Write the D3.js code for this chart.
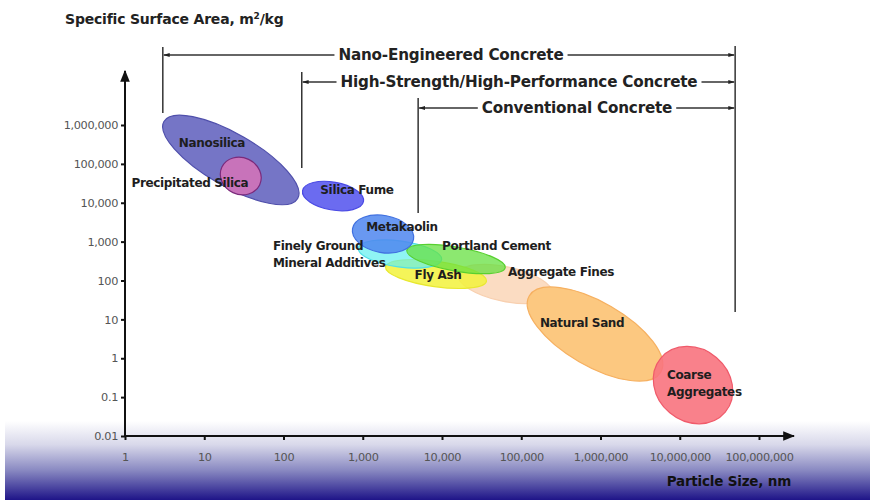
<!DOCTYPE html>
<html>
<head>
<meta charset="utf-8">
<script src="https://cdn.jsdelivr.net/npm/d3@7"></script>
<style>
  html, body { margin: 0; padding: 0; background: #ffffff; }
  svg { display: block; }
  text { font-family: "DejaVu Sans", sans-serif; }
</style>
</head>
<body>
<svg id="chart" width="870" height="500"></svg>
<script>
// ---------- DATA ----------
const xTickValues = [1, 10, 100, 1000, 10000, 100000, 1000000, 10000000, 100000000];
const yTickValues = [0.01, 0.1, 1, 10, 100, 1000, 10000, 100000, 1000000];

// Materials: major-axis end points in data units (particle size nm, surface area m2/kg)
const materialNames = ["Aggregate Fines", "Natural Sand", "Coarse Aggregates", "Nanosilica", "Precipitated Silica",
  "Silica Fume", "Fly Ash", "Finely Ground Mineral Additives", "Portland Cement", "Metakaolin"];
const sizeFrom = [15900, 126000, 5770000, 3.1, 16.7, 174, 1940, 881, 3600, 743];
const sizeTo   = [244000, 5770000, 37500000, 151, 50, 1022, 36400, 9890, 62700, 4370];
const ssaFrom  = [147, 39.9, 1.01, 1230000, 82600, 20500, 224, 678, 598, 2160];
const ssaTo    = [45, 0.44, 0.041, 12900, 28800, 10800, 96.5, 341, 213, 1140];
const widthRatio = [0.36, 0.42, 0.86, 0.34, 0.88, 0.45, 0.25, 0.31, 0.24, 0.6];
const fills   = ["#fbdcc2", "#fcc880", "#f8737e", "#7575c6", "#c873ba", "#6b6bf0", "#f2f23c", "#5ff0f0", "#66e040", "#4f86ee"];
const strokes = ["#f8d0b0", "#f6b060", "#f05a6a", "#4f4fab", "#7b2a7b", "#4a4ae4", "#e8e830", "#50e0e8", "#58d030", "#4070e0"];
const opacities = [1, 1, 0.9, 1, 1, 1, 0.85, 0.7, 0.75, 0.85];

// Label lines and anchor points (data units)
const labelLines = [["Aggregate Fines"], ["Natural Sand"], ["Coarse", "Aggregates"], ["Nanosilica"], ["Precipitated Silica"],
  ["Silica Fume"], ["Fly Ash"], ["Finely Ground", "Mineral Additives"], ["Portland Cement"], ["Metakaolin"]];
const labelSize = [68000, 172000, 6900000, 12.5, 6.6, 846, 8900, 73.7, 10000, 3130];
const labelSSA  = [131, 6.4, 0.29, 270000, 25400, 16800, 109, 609, 609, 1880];
const labelAnchor = ["start", "start", "start", "middle", "middle", "middle", "middle", "start", "start", "middle"];

// Concrete ranges
const rangeNames = ["Nano-Engineered Concrete", "High-Strength/High-Performance Concrete", "Conventional Concrete"];
const rangeFrom = [3, 170, 5000];
const rangeTo = [50000000, 50000000, 50000000];

// ---------- CHART ----------
const svg = d3.select("#chart");
const W = 870, H = 500;

const x = d3.scaleLog().domain([1, 1e8]).range([125, 759]);
const y = d3.scaleLog().domain([0.01, 1e6]).range([436, 125]);
const fmt = d3.format(",");

// background gradient at bottom
const defs = svg.append("defs");
const grad = defs.append("linearGradient").attr("id", "bg").attr("x1", 0).attr("y1", 0).attr("x2", 0).attr("y2", 1);
grad.append("stop").attr("offset", "0%").attr("stop-color", "#ffffff");
grad.append("stop").attr("offset", "30%").attr("stop-color", "#d8d8ea");
grad.append("stop").attr("offset", "62%").attr("stop-color", "#8a8ac2");
grad.append("stop").attr("offset", "100%").attr("stop-color", "#1e1488");
svg.append("rect").attr("x", 5).attr("y", 421).attr("width", W - 5).attr("height", H - 421).attr("fill", "url(#bg)");

// arrow markers
defs.append("marker").attr("id", "arrHead").attr("viewBox", "0 0 10 10").attr("refX", 9).attr("refY", 5)
  .attr("markerWidth", 6).attr("markerHeight", 6).attr("orient", "auto-start-reverse")
  .append("path").attr("d", "M0,1 L10,5 L0,9 Z").attr("fill", "#111");
defs.append("marker").attr("id", "smallHead").attr("viewBox", "0 0 10 10").attr("refX", 9).attr("refY", 5)
  .attr("markerWidth", 5).attr("markerHeight", 5).attr("orient", "auto-start-reverse")
  .append("path").attr("d", "M0,2 L10,5 L0,8 Z").attr("fill", "#222");

// Ellipses
const mat = materialNames.map((n, i) => ({n, i}));
const g = svg.append("g");
mat.forEach(({i}) => {
  const x1 = x(sizeFrom[i]), y1 = y(ssaFrom[i]), x2 = x(sizeTo[i]), y2 = y(ssaTo[i]);
  const cx = (x1 + x2) / 2, cy = (y1 + y2) / 2;
  const a = Math.hypot(x2 - x1, y2 - y1) / 2;
  const ang = Math.atan2(y2 - y1, x2 - x1) * 180 / Math.PI;
  g.append("ellipse")
    .attr("cx", 0).attr("cy", 0).attr("rx", a).attr("ry", a * widthRatio[i])
    .attr("transform", `translate(${cx},${cy}) rotate(${ang})`)
    .attr("fill", fills[i]).attr("fill-opacity", opacities[i])
    .attr("stroke", strokes[i]).attr("stroke-width", 1.2);
});

// Labels
mat.forEach(({i}) => {
  const t = svg.append("text")
    .attr("x", x(labelSize[i])).attr("y", y(labelSSA[i]))
    .attr("text-anchor", labelAnchor[i])
    .attr("font-size", 12).attr("font-weight", 700).attr("fill", "#1e1e1e")
    .attr("letter-spacing", "-0.35");
  labelLines[i].forEach((ln, k) => {
    t.append("tspan").attr("x", x(labelSize[i])).attr("dy", k === 0 ? 0 : 17).text(ln);
  });
});

// Axes
const xAxisY = y(0.01), yAxisX = x(1);
svg.append("line").attr("x1", yAxisX).attr("y1", xAxisY).attr("x2", 794).attr("y2", xAxisY)
  .attr("stroke", "#111").attr("stroke-width", 2).attr("marker-end", "url(#arrHead)");
svg.append("line").attr("x1", yAxisX).attr("y1", xAxisY).attr("x2", yAxisX).attr("y2", 71)
  .attr("stroke", "#111").attr("stroke-width", 2).attr("marker-end", "url(#arrHead)");

const xAxis = d3.axisBottom(x).tickValues(xTickValues).tickFormat(fmt).tickSize(4).tickPadding(13);
const xg = svg.append("g").attr("transform", `translate(0,${xAxisY})`).call(xAxis);
xg.select(".domain").remove();
xg.selectAll(".tick line").attr("stroke", "#111").attr("stroke-width", 2);
xg.selectAll(".tick text").attr("font-size", 11.3).attr("fill", "#555").attr("font-family", "DejaVu Sans, sans-serif").attr("letter-spacing", "-0.35");

const yAxis = d3.axisLeft(y).tickValues(yTickValues).tickFormat(fmt).tickSize(4).tickPadding(3);
const yg = svg.append("g").attr("transform", `translate(${yAxisX},0)`).call(yAxis);
yg.select(".domain").remove();
yg.selectAll(".tick line").attr("stroke", "#111").attr("stroke-width", 2);
yg.selectAll(".tick text").attr("font-size", 11.3).attr("fill", "#555").attr("font-family", "DejaVu Sans, sans-serif").attr("letter-spacing", "-0.35");

// Titles
svg.append("text").attr("x", 65).attr("y", 24).attr("font-size", 14).attr("font-weight", 700).attr("fill", "#222")
  .attr("letter-spacing", "-0.2")
  .html('Specific Surface Area, m<tspan baseline-shift="super" font-size="9">2</tspan>/kg');
svg.append("text").attr("x", 791).attr("y", 486).attr("text-anchor", "end").attr("font-size", 13.5).attr("font-weight", 700)
  .attr("fill", "#111").attr("letter-spacing", "-0.2").text("Particle Size, nm");

// Ranges
const rangeY = [55, 82, 108];
const rangeTop = [47, 72, 98];
const rangeBottom = [113, 168, 213];
const rangeTextCenter = [451, 519, 577];
const rg = svg.append("g");
rangeNames.forEach((name, i) => {
  const xs = x(rangeFrom[i]), xe = x(rangeTo[i]);
  rg.append("line").attr("x1", xs).attr("x2", xs).attr("y1", rangeTop[i]).attr("y2", rangeBottom[i])
    .attr("stroke", "#333").attr("stroke-width", 1.5);
  const t = rg.append("text").attr("x", rangeTextCenter[i]).attr("y", rangeY[i] + 5)
    .attr("text-anchor", "middle").attr("font-size", 15.2).attr("font-weight", 700).attr("fill", "#222")
    .attr("letter-spacing", "-0.2").text(name);
  const bb = t.node().getBBox();
  rg.append("line").attr("x1", bb.x - 4).attr("x2", xs + 1).attr("y1", rangeY[i]).attr("y2", rangeY[i])
    .attr("stroke", "#333").attr("stroke-width", 1.3).attr("marker-end", "url(#smallHead)");
  rg.append("line").attr("x1", bb.x + bb.width + 4).attr("x2", xe - 1).attr("y1", rangeY[i]).attr("y2", rangeY[i])
    .attr("stroke", "#333").attr("stroke-width", 1.3).attr("marker-end", "url(#smallHead)");
});
const xe = x(rangeTo[0]);
rg.append("line").attr("x1", xe).attr("x2", xe).attr("y1", 46).attr("y2", 312).attr("stroke", "#333").attr("stroke-width", 1.5);
</script>
</body>
</html>
